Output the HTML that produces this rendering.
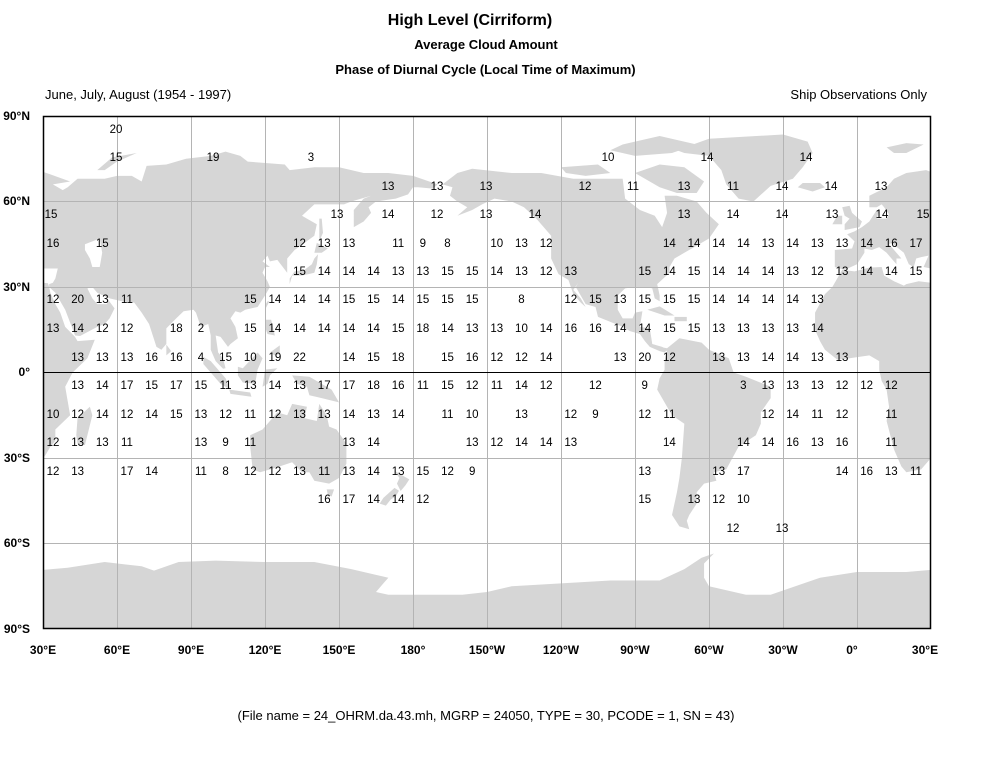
<!DOCTYPE html>
<html><head><meta charset="utf-8"><style>
body{margin:0;background:#fff;width:998px;height:760px;overflow:hidden;position:relative;font-family:"Liberation Sans",Arial,sans-serif;color:#000}
.t{position:absolute;white-space:nowrap}
.r{position:absolute;left:40.67px;height:14px;line-height:14px;display:flex;font-size:11.5px}
.r b{font-weight:normal;width:24.667px;text-align:center;flex:none}
.a{position:absolute;font-size:11.5px;transform:translateX(-50%);line-height:14px}
.lat{position:absolute;font-size:12px;font-weight:bold;right:968px;line-height:14px}
.lon{position:absolute;top:643px;font-size:12px;font-weight:bold;transform:translateX(-50%)}
</style></head><body>
<div class="t" style="left:0;width:940px;text-align:center;top:12px;font-size:16px;font-weight:bold">High Level (Cirriform)</div>
<div class="t" style="left:0;width:972px;text-align:center;top:37px;font-size:13px;font-weight:bold">Average Cloud Amount</div>
<div class="t" style="left:0;width:971px;text-align:center;top:62px;font-size:13px;font-weight:bold">Phase of Diurnal Cycle (Local Time of Maximum)</div>
<div class="t" style="left:45px;top:87px;font-size:13px">June, July, August (1954 - 1997)</div>
<div class="t" style="right:71px;top:87px;font-size:13px">Ship Observations Only</div>

<svg style="position:absolute;left:0;top:0" width="998" height="760">
<defs><clipPath id="c"><rect x="43" y="116" width="888" height="513"/></clipPath>
<g id="w" fill="#d6d6d6">
<polygon points="-9,43 -9,37 -5,36 0,38 3,42 3,43.5 6,43 9,44 12,42 16,38 16,40 18,40 13,45 14,45.5 19,42 21,38 23,37 24,40 26,40.5 29,41 27,37 30,36.5 36,36.5 35,33 34,31.5 32.5,31 32.5,30 35,28 39,22 43,13 45,12.8 52,16 55,17 57,19 59,22.5 56,26 56,24 52,24 50,26 48,29.5 50,30 52,28 57,26 62,25 67,24.5 70,21 73,17 76,9 78,8 80,10 80,15.5 84,19 87,21.5 91,22 92,21 94,16 97,17 98,13 98,8 100,4 103,1.3 104,1.5 103,5 101,7 100,13 102,12.5 105,9 106,10 109,12 108,16 106,19 108,21.5 110,21 112,22 117,23 120,27 122,30 121,32 119,35 120,37 122,37 119,39 121,41 122,39 125,39.5 129,35 129,40 132,43 140,48 141,52 137,54 135,55 140,59 143,59 152,59 155,60 163,62 160,61 156,57 156,51 160,53 163,56 162,58 165,60 173,61 178,62.5 180,65 180,69 170,70 160,70 150,72 140,72 130,71 128,73 113,74 110,76 104,77.5 98,76 88,75 80,73 72,72.5 70,67 66,69 60,69 55,68 44,68 40,65 38,64 34,66 41,67 33,69.5 28,71 20,70 15,68 12,65 5,62 5,58 8,58 10,59 11,58 13,55.5 12,54 8,54 9,57 8,57 5,53 2,51 -1,49.5 -4,48.5 -1,46 -2,43.5"/>
<polygon points="-180,65 -180,69 -175,67.5 -170,66 -172,64.5 -178,65"/>
<polygon points="-17,21 -17,15 -15,11 -13,8 -8,4.5 -3,5 5,6 9,4 9,1 10,-3 12,-6 13,-12 12,-17 15,-27 18,-33 20,-35 26,-34 31,-29 33,-26 35,-24 35,-20 41,-15 40,-10 39,-5 42,0 48,5 51,11.5 44,11 43,12.5 39,16 37,21 35,24 33,28 32.5,30 32,31.3 25,32 20,31 19,30.5 15,32 11,34 10,37 5,36.8 -1,35.5 -6,36 -10,30 -13,27.5"/>
<polygon points="44,-25 47,-25.5 50,-15 49,-12 44,-16 43.5,-22"/>
<polygon points="-168,66 -162,70 -156,71.5 -140,70 -128,70 -115,68 -110,68 -95,68 -94,61 -88,57 -82,55 -79,51 -77,56 -78,62 -73,62 -65,60 -61,56 -56,52 -60,47 -64,45 -66,44 -70,42 -74,40 -76,37 -76,35 -81,31 -80,27 -80,25 -82,26 -83,29.5 -85,30 -90,30 -94,29.5 -97,27 -97,22 -95,19 -91,19 -90,21 -87,21.5 -88,16 -84,15.5 -83,10 -79,9 -77,8 -78,7 -80,7.5 -84,9 -86,11 -88,13.5 -92,14.5 -95,16 -105,19.5 -106,23 -110,24 -114,30 -113,31.5 -115,29 -112,26 -110,23 -112,24.5 -115,27.5 -117,32.5 -121,34.5 -124,40 -124,48 -130,54 -135,58 -140,60 -147,61 -152,59 -156,57 -162,55 -158,58 -162,60 -165,62 -164,65"/>
<polygon points="-80,73 -70,72 -62,67 -65,63 -73,63 -80,65 -90,70"/>
<polygon points="-120,72 -105,73 -100,70 -110,69 -118,70"/>
<polygon points="-90,76 -75,77 -65,80 -80,83 -95,80 -100,78"/>
<polygon points="-73,78 -60,82 -30,83.5 -20,81 -18,77 -22,72 -26,68 -35,65.5 -42,60 -48,61 -53,66 -55,71 -60,76 -70,77"/>
<polygon points="-24,65 -22,66.5 -15,66.5 -13,65 -18,63.5"/>
<polygon points="-5,50 1,51 2,53 -2,56 -3,58.5 -6,58 -5,55 -3,54 -5,52"/>
<polygon points="-10,52 -6,52 -6,55 -8,55"/>
<polygon points="12,79 20,80.5 27,80 20,77 15,77"/>
<polygon points="52,71 58,75.5 68,77 60,74 55,71"/>
<polygon points="-80,9 -77,8.5 -72,12 -63,10.5 -60,8 -52,5 -50,0 -45,-1.5 -35,-5 -35,-9 -39,-14 -39,-18 -41,-22 -48,-26 -53,-34 -58,-35 -57,-38 -62,-39 -65,-42 -65,-46 -68,-50 -69,-52 -68,-55 -72,-54 -75,-50 -73,-42 -72,-37 -71,-30 -70,-18 -75,-15 -77,-12 -81,-6 -80,-2 -78,1 -78,4 -77,7.5"/>
<polygon points="-85,22 -80,23.2 -74,20 -78,20"/>
<polygon points="-74,19.5 -69,19.5 -69,18 -74,18"/>
<polygon points="114,-22 114,-26 115,-34 118,-35 124,-33.5 131,-31.5 135,-35 138,-35 140,-38 146,-39 150,-37 153,-32 153,-25 149,-20 146,-19 145,-15 142,-11 141,-17 136,-16 137,-12 131,-11 129,-15 125,-14 122,-17 119,-20"/>
<polygon points="145,-41 148,-41 147,-43.5 145.5,-43"/>
<polygon points="172.5,-34.5 178.5,-37.5 177,-39.5 175,-41.6 173.5,-39 174.5,-37"/>
<polygon points="172.5,-40.5 174.3,-41.5 173,-43.5 171,-44.5 169,-46.7 166.5,-46 168,-44"/>
<polygon points="95,5.5 98,4 104,-2 106,-6 102,-4 95,3"/>
<polygon points="109,2 111,1.5 117,7 119,5 117,1 116,-4 111,-3.5 109,-1"/>
<polygon points="105.5,-6 114,-7 114.5,-8.5 106,-7.5"/>
<polygon points="119,-5 120,1 125,1.5 122,-1 121,-4"/>
<polygon points="131,-1 138,-1.5 147,-6 150,-10.5 143,-9 138,-8 137,-5 133,-4"/>
<polygon points="120,18.5 122.5,18.5 124,13 121,13.5 120,16"/>
<polygon points="122,7 126,9.5 126,6.5 124,6"/>
<polygon points="120,22 121.8,25 121,25 120,23.5"/>
<polygon points="80,6 82,7.5 80,9.8"/>
<polygon points="130,31 131,34 135,34 140,35 141,38 141.5,41.5 140,40 139,38 136,36 132,35.5 130,33"/>
<polygon points="140,42 141,45.5 145.5,43.5 143,42"/>
<polygon points="142,46 143.5,49 143,54 142,54"/>
<polygon points="-180,-78 -160,-78 -150,-77 -140,-75 -120,-74 -100,-73 -80,-73 -70,-69 -63,-65 -58,-63.5 -62,-67 -62,-72 -60,-75 -45,-78 -35,-78 -25,-75 -15,-72 0,-70 20,-70 40,-68.5 55,-66.5 70,-68 75,-69.5 85,-66.5 100,-66 120,-66.5 140,-66.5 155,-69 165,-71 170,-72 165,-77 170,-78 180,-78 180,-91 -180,-91"/>
<polygon fill="#fff" points="47,45 53,47 54,42 53,37 50,37 49,40 47,43"/>
</g></defs>
<g clip-path="url(#c)">
<g transform="translate(-31,372.5) scale(2.46667,-2.85)">
<use href="#w"/><use href="#w" transform="translate(360,0)"/>
</g>
<g stroke="#b4b4b4" stroke-width="1">
<path d="M117.5 116V629M191.5 116V629M265.5 116V629M339.5 116V629M413.5 116V629M487.5 116V629M561.5 116V629M635.5 116V629M709.5 116V629M783.5 116V629M857.5 116V629"/>
<path d="M43 201.5H931M43 287.5H931M43 458.5H931M43 543.5H931"/>
</g>
<path d="M43 372.5H931" stroke="#000" stroke-width="1"/>
</g>
<rect x="43.5" y="116.5" width="887" height="512" fill="none" stroke="#000" stroke-width="1.5"/>
</svg>

<div class="lat" style="top:109px">90°N</div>
<div class="lat" style="top:194px">60°N</div>
<div class="lat" style="top:280px">30°N</div>
<div class="lat" style="top:365px">0°</div>
<div class="lat" style="top:451px">30°S</div>
<div class="lat" style="top:536px">60°S</div>
<div class="lat" style="top:622px">90°S</div>

<div class="lon" style="left:43px">30°E</div>
<div class="lon" style="left:117px">60°E</div>
<div class="lon" style="left:191px">90°E</div>
<div class="lon" style="left:265px">120°E</div>
<div class="lon" style="left:339px">150°E</div>
<div class="lon" style="left:413px">180°</div>
<div class="lon" style="left:487px">150°W</div>
<div class="lon" style="left:561px">120°W</div>
<div class="lon" style="left:635px">90°W</div>
<div class="lon" style="left:709px">60°W</div>
<div class="lon" style="left:783px">30°W</div>
<div class="lon" style="left:852px">0°</div>
<div class="lon" style="left:925px">30°E</div>

<div class="a" style="left:116px;top:123px">20</div>
<div class="a" style="left:116px;top:151px">15</div><div class="a" style="left:213px;top:151px">19</div><div class="a" style="left:311px;top:151px">3</div><div class="a" style="left:608px;top:151px">10</div><div class="a" style="left:707px;top:151px">14</div><div class="a" style="left:806px;top:151px">14</div>
<div class="a" style="left:388px;top:180px">13</div><div class="a" style="left:437px;top:180px">13</div><div class="a" style="left:486px;top:180px">13</div><div class="a" style="left:585px;top:180px">12</div><div class="a" style="left:633px;top:180px">11</div><div class="a" style="left:684px;top:180px">13</div><div class="a" style="left:733px;top:180px">11</div><div class="a" style="left:782px;top:180px">14</div><div class="a" style="left:831px;top:180px">14</div><div class="a" style="left:881px;top:180px">13</div>
<div class="a" style="left:51px;top:208px">15</div><div class="a" style="left:337px;top:208px">13</div><div class="a" style="left:388px;top:208px">14</div><div class="a" style="left:437px;top:208px">12</div><div class="a" style="left:486px;top:208px">13</div><div class="a" style="left:535px;top:208px">14</div><div class="a" style="left:684px;top:208px">13</div><div class="a" style="left:733px;top:208px">14</div><div class="a" style="left:782px;top:208px">14</div><div class="a" style="left:832px;top:208px">13</div><div class="a" style="left:882px;top:208px">14</div><div class="a" style="left:923px;top:208px">15</div>
<div class="a" style="left:733px;top:522px">12</div><div class="a" style="left:782px;top:522px">13</div>

<div class="r" style="top:237px"><b>16</b><b></b><b>15</b><b></b><b></b><b></b><b></b><b></b><b></b><b></b><b>12</b><b>13</b><b>13</b><b></b><b>11</b><b>9</b><b>8</b><b></b><b>10</b><b>13</b><b>12</b><b></b><b></b><b></b><b></b><b>14</b><b>14</b><b>14</b><b>14</b><b>13</b><b>14</b><b>13</b><b>13</b><b>14</b><b>16</b><b>17</b></div>
<div class="r" style="top:265px"><b></b><b></b><b></b><b></b><b></b><b></b><b></b><b></b><b></b><b></b><b>15</b><b>14</b><b>14</b><b>14</b><b>13</b><b>13</b><b>15</b><b>15</b><b>14</b><b>13</b><b>12</b><b>13</b><b></b><b></b><b>15</b><b>14</b><b>15</b><b>14</b><b>14</b><b>14</b><b>13</b><b>12</b><b>13</b><b>14</b><b>14</b><b>15</b></div>
<div class="r" style="top:293px"><b>12</b><b>20</b><b>13</b><b>11</b><b></b><b></b><b></b><b></b><b>15</b><b>14</b><b>14</b><b>14</b><b>15</b><b>15</b><b>14</b><b>15</b><b>15</b><b>15</b><b></b><b>8</b><b></b><b>12</b><b>15</b><b>13</b><b>15</b><b>15</b><b>15</b><b>14</b><b>14</b><b>14</b><b>14</b><b>13</b></div>
<div class="r" style="top:322px"><b>13</b><b>14</b><b>12</b><b>12</b><b></b><b>18</b><b>2</b><b></b><b>15</b><b>14</b><b>14</b><b>14</b><b>14</b><b>14</b><b>15</b><b>18</b><b>14</b><b>13</b><b>13</b><b>10</b><b>14</b><b>16</b><b>16</b><b>14</b><b>14</b><b>15</b><b>15</b><b>13</b><b>13</b><b>13</b><b>13</b><b>14</b></div>
<div class="r" style="top:351px"><b></b><b>13</b><b>13</b><b>13</b><b>16</b><b>16</b><b>4</b><b>15</b><b>10</b><b>19</b><b>22</b><b></b><b>14</b><b>15</b><b>18</b><b></b><b>15</b><b>16</b><b>12</b><b>12</b><b>14</b><b></b><b></b><b>13</b><b>20</b><b>12</b><b></b><b>13</b><b>13</b><b>14</b><b>14</b><b>13</b><b>13</b></div>
<div class="r" style="top:379px"><b></b><b>13</b><b>14</b><b>17</b><b>15</b><b>17</b><b>15</b><b>11</b><b>13</b><b>14</b><b>13</b><b>17</b><b>17</b><b>18</b><b>16</b><b>11</b><b>15</b><b>12</b><b>11</b><b>14</b><b>12</b><b></b><b>12</b><b></b><b>9</b><b></b><b></b><b></b><b>3</b><b>13</b><b>13</b><b>13</b><b>12</b><b>12</b><b>12</b></div>
<div class="r" style="top:408px"><b>10</b><b>12</b><b>14</b><b>12</b><b>14</b><b>15</b><b>13</b><b>12</b><b>11</b><b>12</b><b>13</b><b>13</b><b>14</b><b>13</b><b>14</b><b></b><b>11</b><b>10</b><b></b><b>13</b><b></b><b>12</b><b>9</b><b></b><b>12</b><b>11</b><b></b><b></b><b></b><b>12</b><b>14</b><b>11</b><b>12</b><b></b><b>11</b></div>
<div class="r" style="top:436px"><b>12</b><b>13</b><b>13</b><b>11</b><b></b><b></b><b>13</b><b>9</b><b>11</b><b></b><b></b><b></b><b>13</b><b>14</b><b></b><b></b><b></b><b>13</b><b>12</b><b>14</b><b>14</b><b>13</b><b></b><b></b><b></b><b>14</b><b></b><b></b><b>14</b><b>14</b><b>16</b><b>13</b><b>16</b><b></b><b>11</b></div>
<div class="r" style="top:465px"><b>12</b><b>13</b><b></b><b>17</b><b>14</b><b></b><b>11</b><b>8</b><b>12</b><b>12</b><b>13</b><b>11</b><b>13</b><b>14</b><b>13</b><b>15</b><b>12</b><b>9</b><b></b><b></b><b></b><b></b><b></b><b></b><b>13</b><b></b><b></b><b>13</b><b>17</b><b></b><b></b><b></b><b>14</b><b>16</b><b>13</b><b>11</b></div>
<div class="r" style="top:493px"><b></b><b></b><b></b><b></b><b></b><b></b><b></b><b></b><b></b><b></b><b></b><b>16</b><b>17</b><b>14</b><b>14</b><b>12</b><b></b><b></b><b></b><b></b><b></b><b></b><b></b><b></b><b>15</b><b></b><b>13</b><b>12</b><b>10</b></div>

<div class="t" style="left:0;width:972px;text-align:center;top:708px;font-size:13px">(File name = 24_OHRM.da.43.mh, MGRP = 24050, TYPE = 30, PCODE = 1, SN = 43)</div>
</body></html>
